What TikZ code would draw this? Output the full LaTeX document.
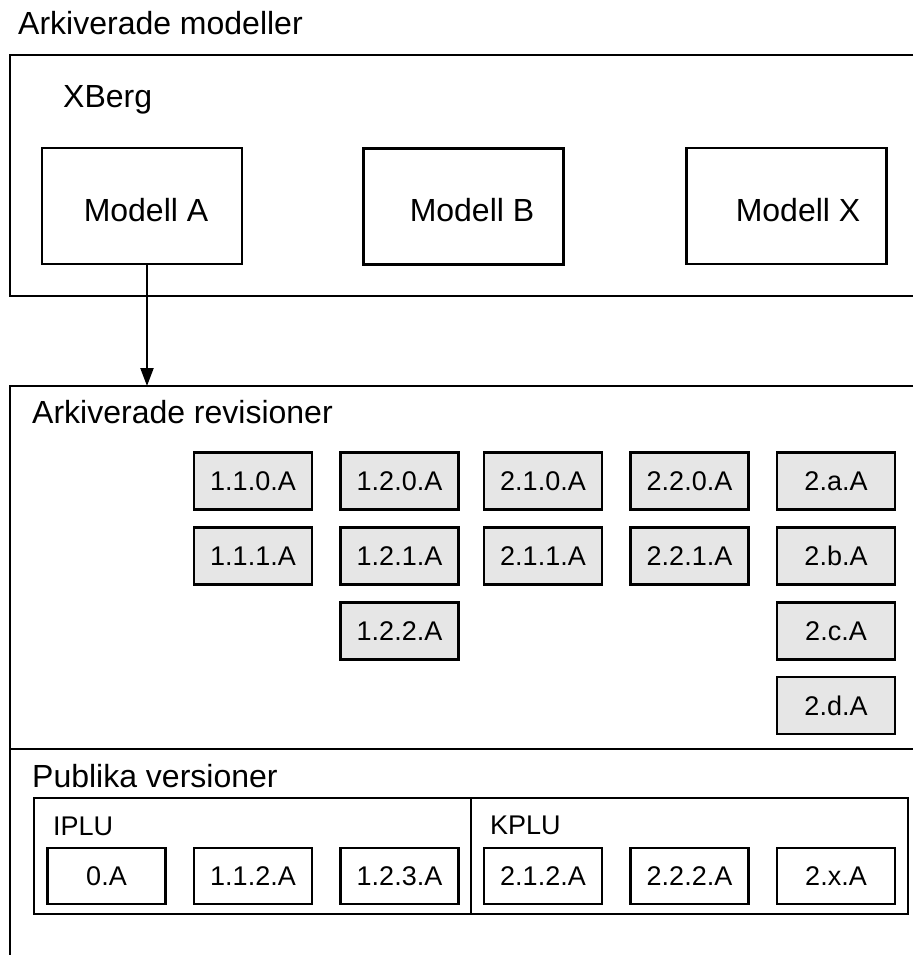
\documentclass[tikz,border=0pt]{standalone}
\usepackage{fontspec}
\setmainfont{Liberation Sans}
\usetikzlibrary{arrows.meta}
\definecolor{revgray}{RGB}{230,230,230}
\begin{document}
\begin{tikzpicture}[x=1pt,y=-1pt,
  lw/.style={line width=2.2pt},
  frame/.style={lw},
  big/.style={font=\fontsize{32}{38}\selectfont},
  small/.style={font=\fontsize{27}{32}\selectfont},
  caption/.style={anchor=base west, inner sep=0pt},
  modelbox/.style={draw, lw, minimum width=200pt, minimum height=116pt, inner sep=0pt},
  modeltext/.style={big, anchor=base, inner sep=0pt},
  revbox/.style={draw, lw, fill=revgray, minimum width=118pt, minimum height=57pt, inner sep=0pt, small},
  pubbox/.style={draw, lw, fill=white, minimum width=118pt, minimum height=56pt, inner sep=0pt, small}]

\useasboundingbox (0,0) rectangle (913,955);

% ---- archived models ----
\node[caption, big] (titleA) at (18,35) {Arkiverade modeller};
\draw[frame] (913,55) -- (10,55) -- (10,296) -- (913,296);
\node[caption, big] (xberg) at (63,108) {XBerg};

\node[modelbox] (A) at (142,206) {};
\node[modelbox] (B) at (463.5,206.5) {};
\node[modelbox] (X) at (786.5,206) {};
\node[modeltext] (tA) at (146,221) {Modell A};
\node[modeltext] (tB) at (472,221) {Modell B};
\node[modeltext] (tX) at (798,221) {Modell X};

% ---- archived revisions / public versions ----
\draw[frame] (913,386) -- (10,386) -- (10,955);
\draw[frame] (10,749) -- (913,749);
\coordinate (revtop) at (147,386);
\draw[lw, -{Triangle[length=18pt,width=13pt]}] ([xshift=5pt]A.south) -- (revtop);

\node[caption, big] (titleR) at (32,423) {Arkiverade revisioner};

% revision grid
\node[revbox] (r110) at (253,481) {1.1.0.A};
\node[revbox] (r120) at (399.5,481) {1.2.0.A};
\node[revbox] (r210) at (543,481) {2.1.0.A};
\node[revbox] (r220) at (689.5,481) {2.2.0.A};
\node[revbox] (r2a)  at (836,481) {2.a.A};
\node[revbox] (r111) at (253,556) {1.1.1.A};
\node[revbox] (r121) at (399.5,556) {1.2.1.A};
\node[revbox] (r211) at (543,556) {2.1.1.A};
\node[revbox] (r221) at (689.5,556) {2.2.1.A};
\node[revbox] (r2b)  at (836,556) {2.b.A};
\node[revbox] (r122) at (399.5,631) {1.2.2.A};
\node[revbox] (r2c)  at (836,631) {2.c.A};
\node[revbox] (r2d)  at (836,705.5) {2.d.A};

% public versions
\node[caption, big] (titleP) at (32,787) {Publika versioner};
\draw[frame] (34,798) rectangle (908,914);
\draw[frame] (471,798) -- (471,914);
\node[caption, small] (iplu) at (53,835) {IPLU};
\node[caption, small] (kplu) at (490,834) {KPLU};

\node[pubbox] (p0)   at (106.5,876) {0.A};
\node[pubbox] (p112) at (253,876) {1.1.2.A};
\node[pubbox] (p123) at (399.5,876) {1.2.3.A};
\node[pubbox] (p212) at (543,876) {2.1.2.A};
\node[pubbox] (p222) at (689.5,876) {2.2.2.A};
\node[pubbox] (p2x)  at (836,876) {2.x.A};
\end{tikzpicture}
\end{document}
